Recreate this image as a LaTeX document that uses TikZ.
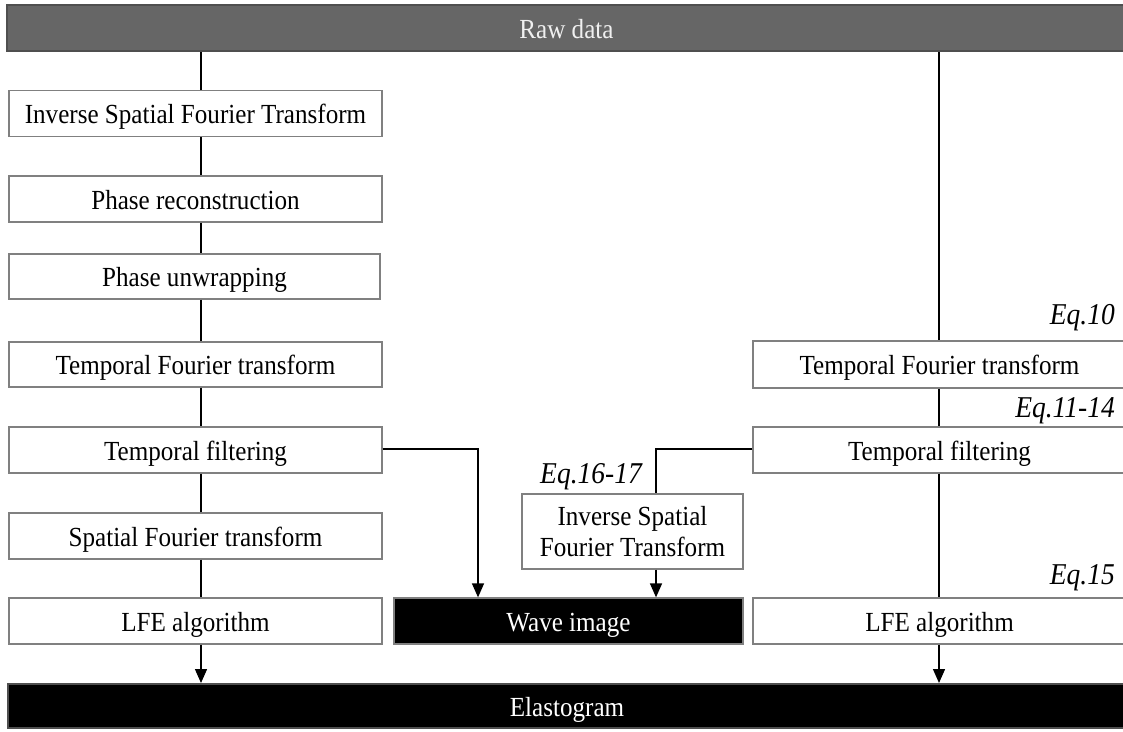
\documentclass[tikz,border=0pt]{standalone}
\usepackage{fontspec}
\setmainfont{Liberation Serif}
\usetikzlibrary{arrows.meta}
\definecolor{rawfill}{HTML}{666666}
\definecolor{rawedge}{HTML}{4F4F4F}
\definecolor{boxedge}{HTML}{808080}
\newcommand{\tallt}[1]{\scalebox{1}[1.1]{#1}}
\tikzset{
  stepbox/.style={draw=boxedge, line width=1.3pt, fill=white, inner sep=0pt,
    minimum width=373pt, minimum height=46pt, text height=23pt, text depth=3pt,
    font=\fontsize{25.1}{29}\selectfont},
  darkbar/.style={draw=rawedge, line width=2pt, fill=black, inner sep=0pt,
    minimum height=44pt, text=white, text height=23pt, text depth=3pt,
    font=\fontsize{25.1}{29}\selectfont},
  conn/.style={line width=1.4pt, draw=black},
  arr/.style={conn, -{Triangle[length=14pt,width=12pt]}},
  eqlabel/.style={inner sep=0pt, font=\fontsize{27.5}{30}\selectfont\itshape}
}
\begin{document}
\begin{tikzpicture}[x=1pt,y=-1pt]
\useasboundingbox (0,0) rectangle (1123,731);
\clip (0,0) rectangle (1123,731);
% top bar
\node[darkbar, fill=rawfill, text={white!94!black}, minimum width=1119pt, minimum height=46pt] (raw) at (566.5,28) {\tallt{Raw data}};
% left column
\node[stepbox] (isft) at (195.5,113.5) {\tallt{Inverse Spatial Fourier Transform}};
\node[stepbox] (pr) at (195.5,199) {\tallt{Phase reconstruction}};
\node[stepbox, minimum width=371pt, minimum height=45pt] (pu) at (194.5,276.5) {\tallt{Phase unwrapping}};
\node[stepbox, minimum height=45pt] (tft) at (195.5,364.5) {\tallt{Temporal Fourier transform}};
\node[stepbox] (tf) at (195.5,450) {\tallt{Temporal filtering}};
\node[stepbox] (sft) at (195.5,536) {\tallt{Spatial Fourier transform}};
\node[stepbox] (lfe) at (195.5,621) {\tallt{LFE algorithm}};
% right column
\node[stepbox, minimum height=47pt] (rtft) at (939.5,364.5) {\tallt{Temporal Fourier transform}};
\node[stepbox] (rtf) at (939.5,450) {\tallt{Temporal filtering}};
\node[stepbox] (rlfe) at (939.5,621) {\tallt{LFE algorithm}};
% middle
\node[draw=boxedge, line width=1.3pt, fill=white, inner sep=0pt,
  minimum width=221pt, minimum height=75pt, align=center,
  font=\fontsize{25.1}{31}\selectfont] (misft) at (632.5,531.5) {\tallt{Inverse Spatial}\\\tallt{Fourier Transform}};
\node[darkbar, minimum width=349pt, minimum height=46pt, draw=boxedge, line width=1.3pt] (wave) at (568.5,621) {\tallt{Wave image}};
% bottom bar
\node[darkbar, minimum width=1118pt] (elast) at (567,706) {\tallt{Elastogram}};
% equation labels
\node[eqlabel, anchor=east] (eq10) at (1115,318) {\tallt{Eq.10}};
\node[eqlabel, anchor=east] (eq11) at (1115,411) {\tallt{Eq.11-14}};
\node[eqlabel, anchor=east] (eq15) at (1115,578) {\tallt{Eq.15}};
\node[eqlabel] (eq16) at (591,477) {\tallt{Eq.16-17}};
% helper coordinates
\coordinate (lx) at (201,0);
\coordinate (rx) at (939,0);
\coordinate (wl) at (478,449);
\coordinate (wr) at (656,449);
% left connectors
\draw[conn] (raw.south -| lx) -- (isft.north -| lx);
\draw[conn] (isft.south -| lx) -- (pr.north -| lx);
\draw[conn] (pr.south -| lx) -- (pu.north -| lx);
\draw[conn] (pu.south -| lx) -- (tft.north -| lx);
\draw[conn] (tft.south -| lx) -- (tf.north -| lx);
\draw[conn] (tf.south -| lx) -- (sft.north -| lx);
\draw[conn] (sft.south -| lx) -- (lfe.north -| lx);
\draw[arr] (lfe.south -| lx) -- (elast.north -| lx);
% right connectors
\draw[conn] (raw.south -| rx) -- (rtft.north -| rx);
\draw[conn] (rtft.south -| rx) -- (rtf.north -| rx);
\draw[conn] (rtf.south -| rx) -- (rlfe.north -| rx);
\draw[arr] (rlfe.south -| rx) -- (elast.north -| rx);
% to wave image
\draw[arr] (tf.east |- wl) -- (wl) -- (wave.north -| wl);
\draw[conn] (rtf.west |- wr) -- (wr) -- (misft.north -| wr);
\draw[arr] (misft.south -| wr) -- (wave.north -| wr);
\end{tikzpicture}
\end{document}
